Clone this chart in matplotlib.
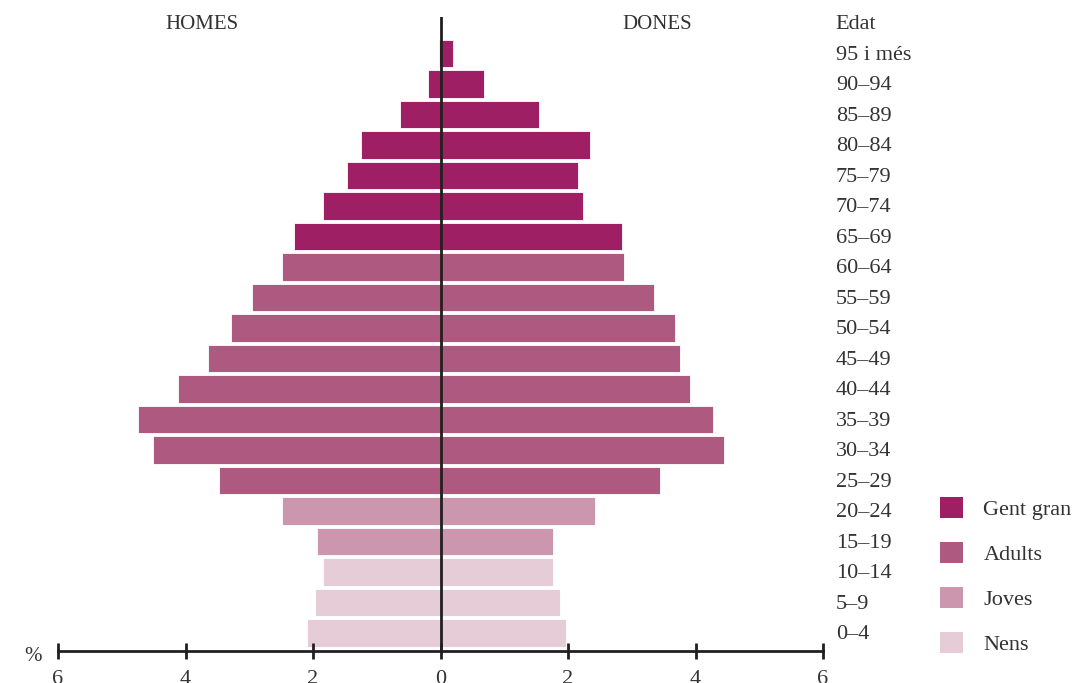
import matplotlib
matplotlib.use("Agg")
import matplotlib.pyplot as plt
import matplotlib.transforms as mtransforms
import numpy as np
from matplotlib.patches import Patch

# grups d'edat (de baix a dalt)
edats = ["0–4", "5–9", "10–14", "15–19", "20–24", "25–29", "30–34", "35–39",
         "40–44", "45–49", "50–54", "55–59", "60–64", "65–69", "70–74",
         "75–79", "80–84", "85–89", "90–94", "95 i més"]

# percentatges (%)
homes = [2.10, 1.97, 1.85, 1.94, 2.48, 3.48, 4.51, 4.75, 4.12, 3.64,
         3.29, 2.96, 2.49, 2.30, 1.85, 1.47, 1.25, 0.64, 0.19, 0.03]
dones = [1.97, 1.88, 1.76, 1.76, 2.43, 3.45, 4.44, 4.28, 3.92, 3.76,
         3.68, 3.35, 2.88, 2.84, 2.23, 2.15, 2.35, 1.54, 0.69, 0.19]

grups = ["Nens"] * 3 + ["Joves"] * 2 + ["Adults"] * 8 + ["Gent gran"] * 7
colors = {"Gent gran": "#9e1f63", "Adults": "#ae5a80",
          "Joves": "#cc97ae", "Nens": "#e6ccd6"}
text_color = "#333333"
plt.rcParams['font.family'] = ['Liberation Serif', 'DejaVu Serif']

fig = plt.figure(figsize=(10.83, 6.83), dpi=100)
ax = fig.add_axes([58 / 1083, 32 / 683, 765 / 1083, 634 / 683])

y = np.arange(len(edats))
bar_colors = [colors[g] for g in grups]
ax.barh(y, -np.array(homes), height=0.9, color=bar_colors, edgecolor="white", linewidth=0.6)
ax.barh(y, dones, height=0.9, color=bar_colors, edgecolor="white", linewidth=0.6)

ax.set_xlim(-6, 6)
ax.set_ylim(-0.59, 20.2)
ax.axvline(0, color="#231f20", linewidth=2)

for s in ["top", "right", "left"]:
    ax.spines[s].set_visible(False)
ax.spines["bottom"].set_linewidth(2)
ax.spines["bottom"].set_color("#231f20")
ax.set_yticks([])
xt = [-6, -4, -2, 0, 2, 4, 6]
ax.set_xticks(xt)
ax.set_xticklabels([str(abs(v)) for v in xt], fontsize=16, color=text_color)
ax.tick_params(axis="x", direction="inout", length=12, width=2, color="#231f20", pad=8)

# etiquetes d'edat
for yi, lab in zip(y, edats):
    ax.text(6.2, yi - 0.05, lab, ha="left", va="center", fontsize=16, color=text_color)
ax.text(6.2, 19.95, "Edat", ha="left", va="center", fontsize=16, color=text_color)
ax.text(-3.75, 19.95, "HOMES", ha="center", va="center", fontsize=15, color=text_color)
ax.text(3.40, 19.95, "DONES", ha="center", va="center", fontsize=15, color=text_color)
trans = mtransforms.blended_transform_factory(ax.transData, ax.transAxes)
ax.text(-6.25, -0.008, "%", ha="right", va="center", fontsize=15, color=text_color,
        transform=trans)

handles = [Patch(facecolor=colors[k], edgecolor="none") for k in ["Gent gran", "Adults", "Joves", "Nens"]]
fig.legend(handles, ["Gent gran", "Adults", "Joves", "Nens"], loc="upper left",
           bbox_to_anchor=(920 / 1083, 1 - 477 / 683), frameon=False, fontsize=16,
           handlelength=1.05, handleheight=1.05, labelspacing=1.0, handletextpad=0.9,
           labelcolor=text_color)

fig.savefig("out.png", dpi=100)
